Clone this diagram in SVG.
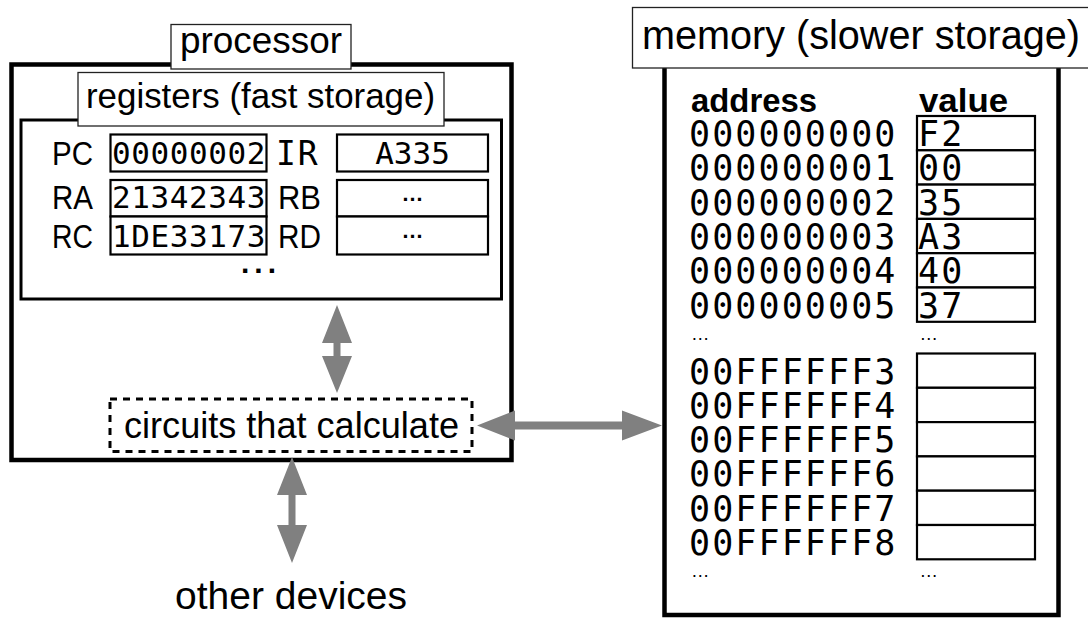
<svg xmlns="http://www.w3.org/2000/svg" width="1088" height="618" viewBox="0 0 1088 618">
  <style>
    .sans { font-family: "Liberation Sans", Arial, sans-serif; fill: #000; }
    .bold { font-family: "Liberation Sans", Arial, sans-serif; font-weight: bold; fill: #000; }
    .mono { font-family: "DejaVu Sans Mono", monospace; fill: #000; }
    .frame { fill: #fff; stroke: #000; }
    .tag { fill: #fff; stroke: #222; stroke-width: 1.3; }
    .cell { fill: #fff; stroke: #000; stroke-width: 2.2; }
    .arrow { fill: #808080; stroke: none; }
  </style>

  <rect width="1088" height="618" fill="#fff"/>

  <!-- processor -->
  <g id="processor">
    <rect class="frame" x="11.5" y="64.5" width="500" height="395.5" stroke-width="4.5"/>
    <rect class="tag" x="171" y="24.5" width="180" height="44.5"/>
    <text class="sans" x="180" y="53" font-size="36" textLength="162" lengthAdjust="spacingAndGlyphs">processor</text>
  </g>

  <!-- register file -->
  <g id="registers">
    <rect class="frame" x="21" y="120" width="480.5" height="179" stroke-width="3"/>
    <rect class="tag" x="78" y="72.5" width="366" height="53.5"/>
    <text class="sans" x="86" y="108" font-size="35" textLength="349" lengthAdjust="spacingAndGlyphs">registers (fast storage)</text>

    <text class="sans" x="52" y="165" font-size="33" textLength="41" lengthAdjust="spacingAndGlyphs">PC</text>
    <rect class="cell" x="110.5" y="134.5" width="156" height="37"/>
    <text class="mono" x="112" y="164" font-size="31" letter-spacing="0.6">00000002</text>
    <text class="mono" x="276" y="165" font-size="33" letter-spacing="2">IR</text>
    <rect class="cell" x="337" y="134.5" width="151" height="37"/>
    <text class="mono" x="412.5" y="164" font-size="31" text-anchor="middle">A335</text>

    <text class="sans" x="52" y="209" font-size="33" textLength="41" lengthAdjust="spacingAndGlyphs">RA</text>
    <rect class="cell" x="110.5" y="180" width="156" height="36.5"/>
    <text class="mono" x="112" y="208" font-size="31" letter-spacing="0.6">21342343</text>
    <text class="sans" x="278" y="209" font-size="33" textLength="43" lengthAdjust="spacingAndGlyphs">RB</text>
    <rect class="cell" x="337" y="180" width="151" height="36.5"/>
    <text class="bold" x="412.5" y="200.5" font-size="22" text-anchor="middle">…</text>

    <text class="sans" x="52" y="248" font-size="33" textLength="41" lengthAdjust="spacingAndGlyphs">RC</text>
    <rect class="cell" x="110.5" y="216.5" width="156" height="38"/>
    <text class="mono" x="112" y="247" font-size="31" letter-spacing="0.6">1DE33173</text>
    <text class="sans" x="278" y="248" font-size="33" textLength="43" lengthAdjust="spacingAndGlyphs">RD</text>
    <rect class="cell" x="337" y="216.5" width="151" height="38"/>
    <text class="bold" x="412.5" y="238" font-size="22" text-anchor="middle">…</text>

    <text class="bold" x="241" y="272.5" font-size="30" letter-spacing="5">...</text>
  </g>

  <!-- arithmetic / logic -->
  <g id="circuits">
    <rect x="110" y="399" width="362" height="52.5" fill="#fff" stroke="#000" stroke-width="3" stroke-dasharray="7 6"/>
    <text class="sans" x="124" y="438" font-size="36" textLength="335" lengthAdjust="spacingAndGlyphs">circuits that calculate</text>
  </g>

  <g id="devices">
    <text class="sans" x="175" y="609" font-size="39" textLength="232" lengthAdjust="spacingAndGlyphs">other devices</text>
  </g>

  <!-- main memory -->
  <g id="memory">
    <rect class="frame" x="664.5" y="65" width="394" height="550" stroke-width="4.5"/>
    <rect class="tag" x="632.5" y="7.5" width="460" height="60.5"/>
    <text class="sans" x="642" y="49" font-size="40" textLength="438" lengthAdjust="spacingAndGlyphs">memory (slower storage)</text>

    <text class="bold" x="691" y="112" font-size="33" textLength="126" lengthAdjust="spacingAndGlyphs">address</text>
    <text class="bold" x="919" y="112" font-size="34" textLength="89" lengthAdjust="spacingAndGlyphs">value</text>

    <g class="cells">
      <rect class="cell" x="917" y="116" width="118" height="34.3"/>
      <rect class="cell" x="917" y="150.3" width="118" height="34.3"/>
      <rect class="cell" x="917" y="184.6" width="118" height="34.3"/>
      <rect class="cell" x="917" y="218.9" width="118" height="34.3"/>
      <rect class="cell" x="917" y="253.2" width="118" height="34.3"/>
      <rect class="cell" x="917" y="287.5" width="118" height="34.3"/>

      <rect class="cell" x="917" y="353.5" width="118" height="34.3"/>
      <rect class="cell" x="917" y="387.8" width="118" height="34.3"/>
      <rect class="cell" x="917" y="422.1" width="118" height="34.3"/>
      <rect class="cell" x="917" y="456.4" width="118" height="34.3"/>
      <rect class="cell" x="917" y="490.7" width="118" height="34.3"/>
      <rect class="cell" x="917" y="525" width="118" height="34.3"/>
    </g>

    <g class="mono" font-size="35" letter-spacing="2.1">
      <text x="689" y="146">000000000</text>
      <text x="689" y="180.3">000000001</text>
      <text x="689" y="214.6">000000002</text>
      <text x="689" y="248.9">000000003</text>
      <text x="689" y="283.2">000000004</text>
      <text x="689" y="317.5">000000005</text>

      <text x="918" y="146">F2</text>
      <text x="918" y="180.3">00</text>
      <text x="918" y="214.6">35</text>
      <text x="918" y="248.9">A3</text>
      <text x="918" y="283.2">40</text>
      <text x="918" y="317.5">37</text>

      <text x="689" y="383.5">00FFFFFF3</text>
      <text x="689" y="417.8">00FFFFFF4</text>
      <text x="689" y="452.1">00FFFFFF5</text>
      <text x="689" y="486.4">00FFFFFF6</text>
      <text x="689" y="520.7">00FFFFFF7</text>
      <text x="689" y="555">00FFFFFF8</text>
    </g>

    <g class="sans" font-size="18.5">
      <text x="691" y="339.5">…</text>
      <text x="919.5" y="339.5">…</text>
      <text x="691" y="577">…</text>
      <text x="919.5" y="577">…</text>
    </g>
  </g>

  <!-- two-way data paths -->
  <g id="connectors">
    <path class="arrow" d="M337,305 L352,343 L340.5,343 L340.5,356 L352,356 L337,393 L322,356 L333.5,356 L333.5,343 L322,343 Z"/>
    <path class="arrow" d="M292,457 L307,495 L295.5,495 L295.5,525 L307,525 L292,563 L277,525 L288.5,525 L288.5,495 L277,495 Z"/>
    <path class="arrow" d="M477,425.5 L515,410.5 L515,421.5 L622,421.5 L622,410.5 L662,425.5 L622,440.5 L622,429.5 L515,429.5 L515,440.5 Z"/>
  </g>
</svg>
